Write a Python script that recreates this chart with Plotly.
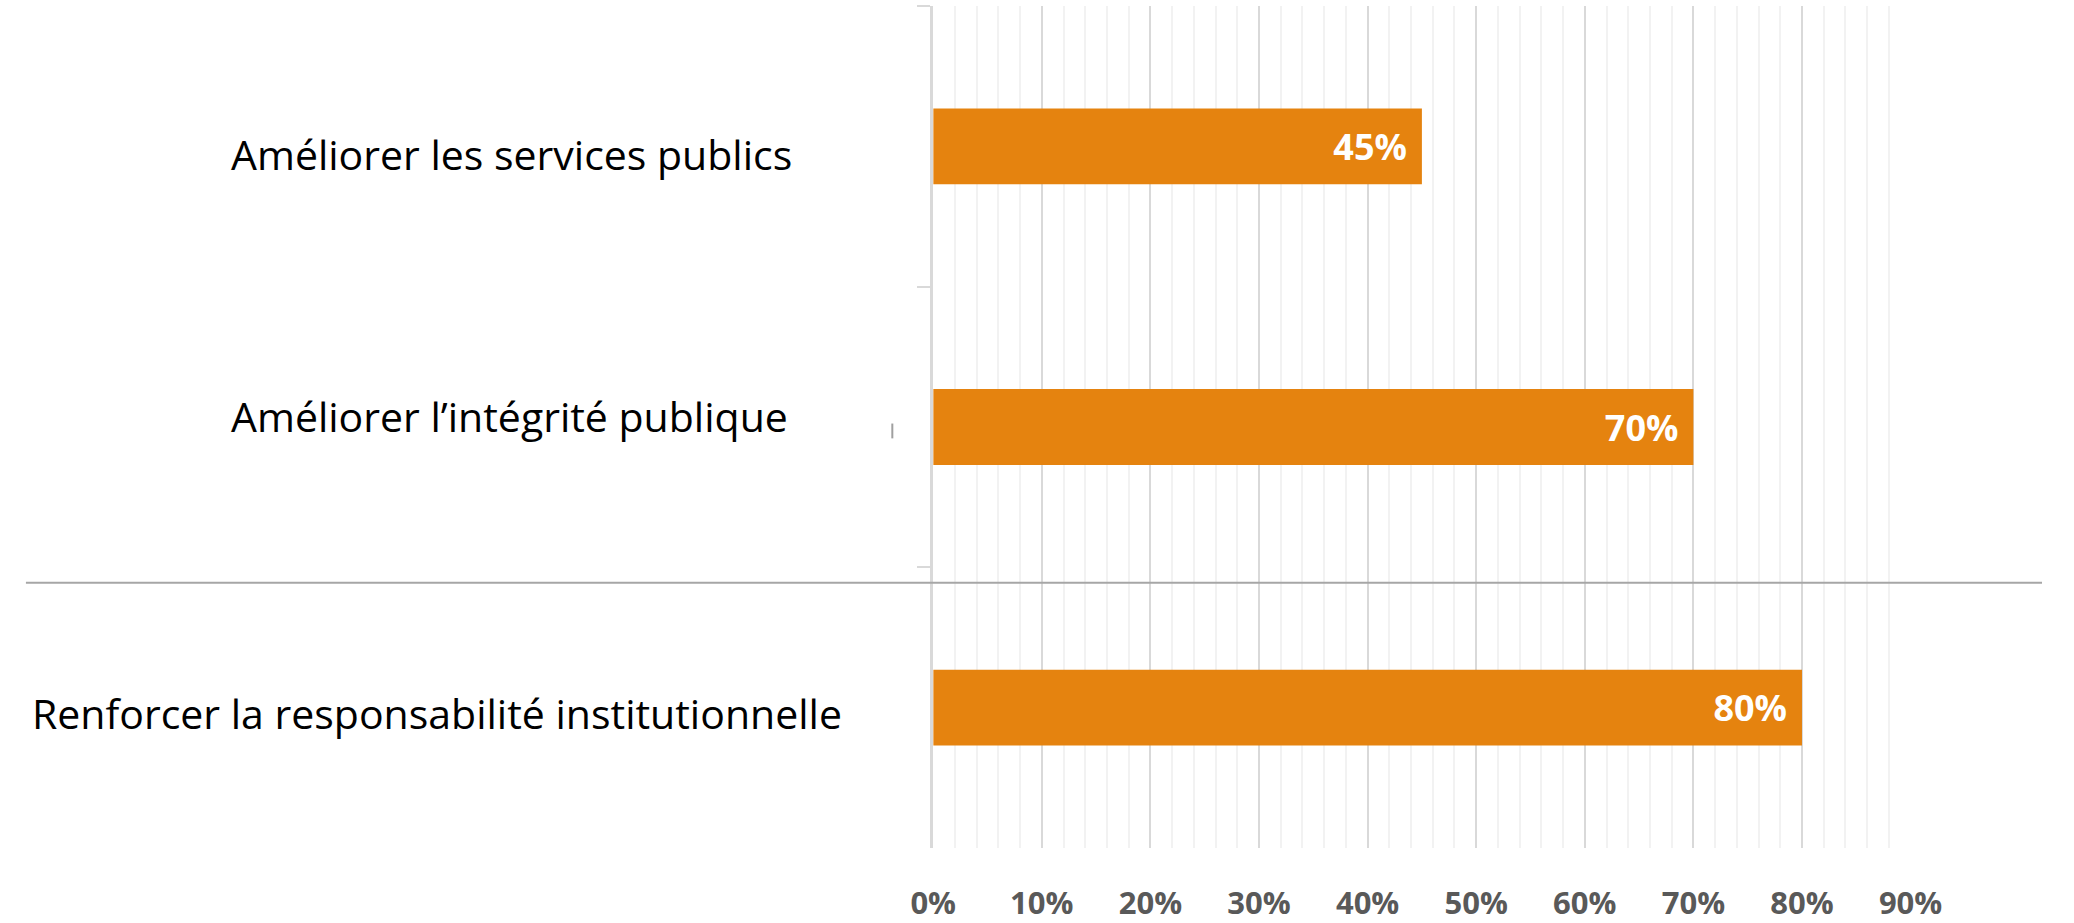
import plotly.graph_objects as go

categories = ["Améliorer les services publics",
              "Améliorer l’intégrité publique",
              "Renforcer la responsabilité institutionnelle"]
values = [0.45, 0.70, 0.80]
tick_vals = [0, 0.1, 0.2, 0.3, 0.4, 0.5, 0.6, 0.7, 0.8, 0.9]
tick_text = ["0%", "10%", "20%", "30%", "40%", "50%", "60%", "70%", "80%", "90%"]

W, H = 2074, 923
x0_px, x1_px = 935, 1939
top_px, bot_px = 6, 857

fig = go.Figure()
fig.add_trace(go.Bar(
    y=categories, x=values, orientation="h",
    marker=dict(color="#E5830F", line=dict(width=0)),
    width=0.27,
    texttemplate="%{x:.0%}\u2009\u2009", textposition="inside", insidetextanchor="end",
    textfont=dict(family="Open Sans", size=36, color="white", weight="bold"),
    textangle=0,
    hoverinfo="skip",
))

# category labels as annotations in the left margin
label_x_px = [212, 212, 7]
label_shift = [-8, 11, -5]
for c, lx, sh in zip(categories, label_x_px, label_shift):
    fig.add_annotation(x=lx / W, xref="paper", y=c, yref="y", text=c,
                       showarrow=False, xanchor="left", yshift=sh,
                       font=dict(family="Open Sans", size=41, color="black"))

# horizontal separator line and small stray tick
sep_y = (bot_px - 589) / (bot_px - top_px)
fig.add_shape(type="line", xref="paper", yref="paper",
              x0=3 / W, x1=1.0, y0=sep_y, y1=sep_y,
              line=dict(color="#A6A6A6", width=2))
fig.add_shape(type="line", xref="paper", yref="paper",
              x0=893 / W, x1=893 / W,
              y0=(bot_px - 428) / (bot_px - top_px), y1=(bot_px - 443) / (bot_px - top_px),
              line=dict(color="#A0A0A0", width=2))

fig.update_layout(
    width=W, height=H,
    margin=dict(l=0, r=0, t=top_px, b=H - bot_px, pad=0),
    paper_bgcolor="white", plot_bgcolor="white",
    showlegend=False,
    xaxis=dict(
        domain=[x0_px / W, x1_px / W],
        range=[0, 0.9],
        tickvals=tick_vals, ticktext=tick_text,
        showgrid=True, gridcolor="#D9D9D9", gridwidth=2,
        minor=dict(dtick=0.02, showgrid=True, gridcolor="#F2F2F2", gridwidth=2),
        zeroline=False, showline=False, ticks="",
        ticklabelstandoff=34,
        tickfont=dict(family="Open Sans", size=31, color="#595959", weight="bold"),
        fixedrange=True,
    ),
    yaxis=dict(
        type="category", autorange="reversed",
        categoryorder="array", categoryarray=categories,
        showticklabels=False,
        showline=True, linecolor="#D9D9D9", linewidth=3,
        ticks="outside", tickson="boundaries", ticklen=13,
        tickcolor="#D9D9D9", tickwidth=2,
        showgrid=False, zeroline=False,
        fixedrange=True,
    ),
)

fig.write_html("out.html", config={"displayModeBar": False},
               post_script="document.documentElement.style.overflow='hidden';document.body.style.margin='0';document.body.style.overflow='hidden';")
